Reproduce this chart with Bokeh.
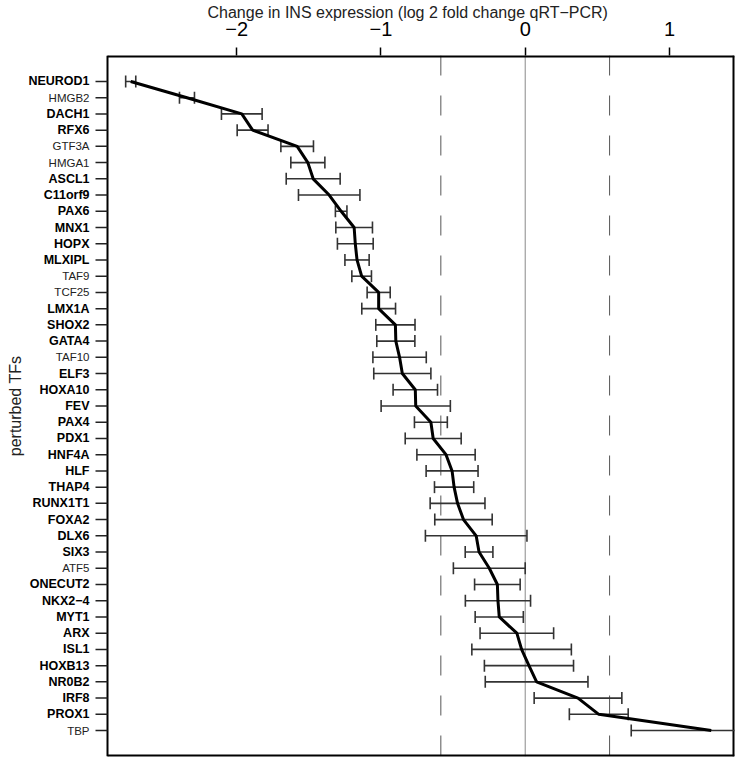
import numpy as np
from bokeh.plotting import figure
from bokeh.models import Range1d, FixedTicker, Span, Title
from bokeh.core.properties import value
from bokeh.embed import file_html
from bokeh.resources import INLINE

# ---- data ----
tfs = ["NEUROD1", "HMGB2", "DACH1", "RFX6", "GTF3A", "HMGA1", "ASCL1", "C11orf9",
       "PAX6", "MNX1", "HOPX", "MLXIPL", "TAF9", "TCF25", "LMX1A", "SHOX2", "GATA4",
       "TAF10", "ELF3", "HOXA10", "FEV", "PAX4", "PDX1", "HNF4A", "HLF", "THAP4",
       "RUNX1T1", "FOXA2", "DLX6", "SIX3", "ATF5", "ONECUT2", "NKX2\u22124", "MYT1",
       "ARX", "ISL1", "HOXB13", "NR0B2", "IRF8", "PROX1", "TBP"]
log2fc = [-2.735, -2.345, -1.965, -1.890, -1.581, -1.507, -1.470, -1.359,
          -1.276, -1.186, -1.178, -1.166, -1.134, -1.016, -1.016, -0.900, -0.897,
          -0.871, -0.852, -0.762, -0.759, -0.654, -0.638, -0.549, -0.507, -0.493,
          -0.469, -0.428, -0.340, -0.320, -0.249, -0.193, -0.189, -0.180,
          -0.058, -0.025, 0.026, 0.079, 0.366, 0.510, 1.290]
err = [0.035, 0.052, 0.141, 0.107, 0.113, 0.118, 0.187, 0.213,
       0.040, 0.127, 0.124, 0.084, 0.068, 0.080, 0.117, 0.136, 0.132,
       0.185, 0.198, 0.154, 0.240, 0.114, 0.194, 0.202, 0.180, 0.136,
       0.190, 0.199, 0.352, 0.096, 0.249, 0.158, 0.226, 0.167,
       0.255, 0.345, 0.309, 0.356, 0.304, 0.204, 0.555]
control_tfs = ["HMGB2", "GTF3A", "HMGA1", "TAF9", "TCF25", "TAF10", "ATF5", "TBP"]
x_ticks = [-2, -1, 0, 1]
x_tick_labels = ["\u22122", "\u22121", "0", "1"]
threshold = 0.585  # log2(1.5)
x_title = "Change in INS expression (log 2 fold change qRT\u2212PCR)"
y_title = "perturbed TFs"

n = len(tfs)
ypos = np.arange(n)[::-1].astype(float)
m = np.array(log2fc)
e = np.array(err)
lo = m - e
hi = m + e

pad_x = 0.04 * (m.max() - m.min())
x0, x1 = m.min() - pad_x, m.max() + pad_x
pad_y = 0.04 * (n - 1)
y0, y1 = -pad_y, (n - 1) + pad_y

# layout: the plotting frame is widened to the left so the category labels live inside it
W, H = 737, 759
border_top, border_right, border_bottom = 55, 3, 3
box_left_px = 107
frame_w = W - border_right
scale = (frame_w - box_left_px) / (x1 - x0)   # px per data unit
xr0 = x0 - box_left_px / scale

p = figure(width=W, height=H, x_range=Range1d(xr0, x1), y_range=Range1d(y0, y1),
           output_backend="svg", toolbar_location=None, x_axis_location="above",
           y_axis_location=None,
           min_border_left=0, min_border_right=border_right, min_border_top=border_top,
           min_border_bottom=border_bottom,
           background_fill_color="white", border_fill_color="white")
p.xgrid.visible = False
p.ygrid.visible = False
p.outline_line_color = None

# title above
p.title = Title(text=x_title, align="left", offset=207, text_font="Liberation Sans",
                text_font_size="16px", text_font_style="normal", text_color="#222222",
                standoff=-5)

# x axis (top)
xa = p.xaxis[0]
xa.ticker = FixedTicker(ticks=x_ticks)
xa.major_label_overrides = {t: lab for t, lab in zip(x_ticks, x_tick_labels)}
xa.major_label_text_font = "Liberation Sans"
xa.major_label_text_font_size = "20px"
xa.major_label_text_color = "black"
xa.major_label_standoff = 12
xa.major_tick_out = 8
xa.major_tick_in = 0
xa.major_tick_line_color = "black"
xa.major_tick_line_width = 1.5
xa.minor_tick_line_color = None
xa.axis_line_color = None

# reference lines
p.add_layout(Span(location=0, dimension="height", line_color="#8a8a8a", line_width=1, level="underlay"))
for loc in (-threshold, threshold):
    p.add_layout(Span(location=loc, dimension="height", line_color="#555555", line_width=1,
                      line_dash="20 20", level="underlay"))

# box around the data area
p.segment(x0=[x0], y0=[y0], x1=[x0], y1=[y1], line_color="black", line_width=2)
p.segment(x0=[x0, x0, x1], y0=[y1, y0, y0], x1=[x1, x1, x1], y1=[y1, y0, y1],
          line_color="black", line_width=4)

# category ticks
tick_len = 12 / scale
p.segment(x0=[x0 - tick_len] * n, y0=ypos, x1=[x0] * n, y1=ypos, line_color="#222222", line_width=1.5)

# error bars
p.segment(x0=lo, y0=ypos, x1=hi, y1=ypos, line_color="#333333", line_width=1.6)
cap = 0.37
p.segment(x0=lo, y0=ypos - cap, x1=lo, y1=ypos + cap, line_color="#333333", line_width=1.6)
p.segment(x0=hi, y0=ypos - cap, x1=hi, y1=ypos + cap, line_color="#333333", line_width=1.6)

# mean line
p.line(x=m, y=ypos, line_color="black", line_width=3)

# category labels
bold_mask = np.array([t not in control_tfs for t in tfs])
p.text(x=[x0] * int(bold_mask.sum()), y=ypos[bold_mask],
       text=[t for t, b in zip(tfs, bold_mask) if b], x_offset=-18,
       text_align="right", text_baseline="middle", text_font=value("Liberation Sans"),
       text_font_style="bold", text_font_size=value("12.5px"), text_color="black")
p.text(x=[x0] * int((~bold_mask).sum()), y=ypos[~bold_mask],
       text=[t for t, b in zip(tfs, bold_mask) if not b], x_offset=-18,
       text_align="right", text_baseline="middle", text_font=value("Liberation Sans"),
       text_font_size=value("11.5px"), text_color="#222222")

# y-axis title
p.text(x=[x0], y=[(y0 + y1) / 2], text=[y_title], x_offset=-92, angle=np.pi / 2,
       text_align="center", text_baseline="middle", text_font=value("Liberation Sans"),
       text_font_size=value("16px"), text_color="#222222")

open("out.html", "w").write(file_html(p, INLINE))
